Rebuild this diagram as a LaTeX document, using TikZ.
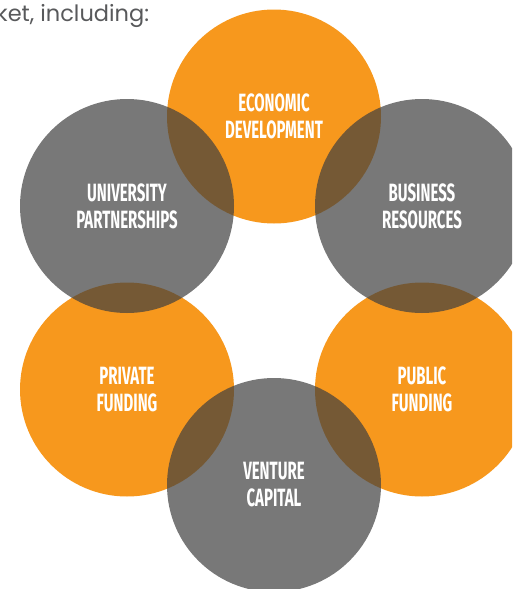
\documentclass[tikz,border=0pt]{standalone}
\usepackage{fontspec}
\setmainfont{Poppins}
\newfontfamily\condfont[FakeStretch=0.6]{Fira Sans}
\definecolor{orng}{RGB}{247,152,29}
\definecolor{dgray}{RGB}{64,64,64}
\definecolor{txtgray}{RGB}{88,89,91}
\begin{document}
\begin{tikzpicture}[x=1pt,y=-1pt,
  bubble/.style={circle,inner sep=0pt,minimum size=214pt,text=white,align=center,
    font=\condfont\bfseries\fontsize{25}{27}\selectfont},
  orangebubble/.style={bubble,fill=orng},
  graybubble/.style={bubble,fill=dgray,fill opacity=0.705,text opacity=1}]
\useasboundingbox (0,0) rectangle (512,589);
\clip (0,0) rectangle (512,589);
\node[anchor=base west,text=txtgray,inner sep=0pt,font=\fontsize{22.5}{26}\selectfont] (intro) at (-4,21) {ket, including:};
\node[orangebubble] (econ) at (274,116.5) {ECONOMIC\\DEVELOPMENT};
\node[orangebubble] (public) at (422,389.5) {PUBLIC\\FUNDING};
\node[orangebubble] (private) at (127,389.5) {PRIVATE\\FUNDING};
\node[graybubble] (univ) at (127,206) {UNIVERSITY\\PARTNERSHIPS};
\node[graybubble] (business) at (422,206) {BUSINESS\\RESOURCES};
\node[graybubble] (venture) at (274,485) {VENTURE\\CAPITAL};
\end{tikzpicture}
\end{document}
